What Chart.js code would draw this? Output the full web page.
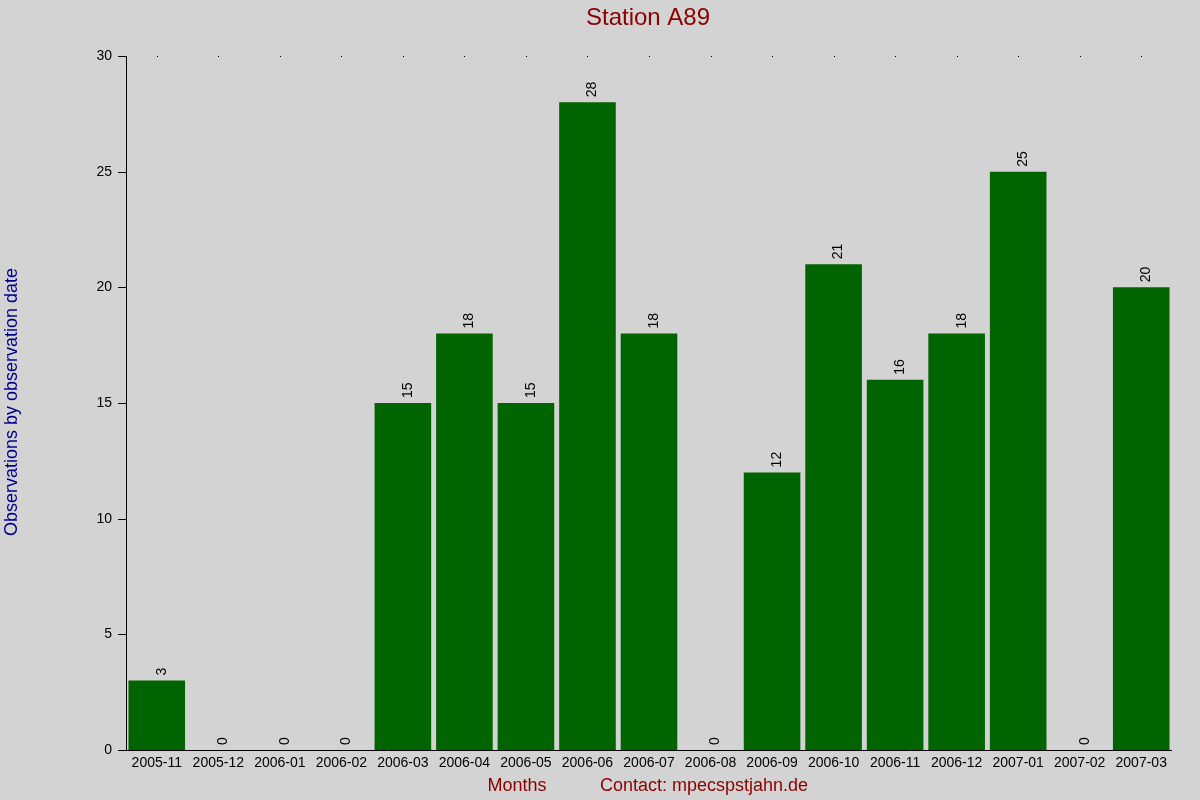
<!DOCTYPE html><html><head><meta charset="utf-8">
<script src="https://cdn.jsdelivr.net/npm/chart.js@4"></script>
<style>html,body{margin:0;background:#d3d3d3}#w{width:1200px;height:800px}</style></head><body><div id="w"><canvas id="c"></canvas></div>
<script>
const categories=["2005-11","2005-12","2006-01","2006-02","2006-03","2006-04","2006-05","2006-06","2006-07","2006-08","2006-09","2006-10","2006-11","2006-12","2007-01","2007-02","2007-03"];
const observations=[3,0,0,0,15,18,15,28,18,0,12,21,16,18,25,0,20];
const yTicks=[0,5,10,15,20,25,30];
const deco={id:'deco',afterDatasetsDraw(ch){
 const c=ch.ctx,x=ch.scales.x,y=ch.scales.y,a=ch.chartArea;
 c.save();c.strokeStyle='#000';c.lineWidth=1;c.fillStyle='#000';
 c.beginPath();c.moveTo(a.left+0.5,a.top);c.lineTo(a.left+0.5,a.bottom);c.moveTo(a.left,a.bottom+0.5);c.lineTo(a.right,a.bottom+0.5);c.stroke();
 c.font='14px "Liberation Sans",Arial';c.textAlign='right';c.textBaseline='middle';
 yTicks.forEach(v=>{const p=Math.round(y.getPixelForValue(v))+0.5;c.beginPath();c.moveTo(a.left-8,p);c.lineTo(a.left,p);c.stroke();c.fillText(v,a.left-14,p);});
 c.textAlign='center';c.textBaseline='top';
 categories.forEach((l,i)=>{const px=x.getPixelForValue(i);c.fillText(l,px,a.bottom+6);c.fillRect(Math.round(px),a.top,1,1);});
 observations.forEach((v,i)=>{const px=x.getPixelForValue(i),py=y.getPixelForValue(v);c.save();c.translate(px+5,py-5);c.rotate(-Math.PI/2);c.textAlign='left';c.textBaseline='middle';c.fillText(v,0,0);c.restore();});
 c.fillStyle='#8b0000';c.font='24px "Liberation Sans",Arial';c.textBaseline='middle';c.fillText('Station A89',648,18);
 c.font='18px "Liberation Sans",Arial';c.fillText('Months',517,786);c.fillText('Contact: mpecspstjahn.de',704,786);
 c.fillStyle='#00008b';c.translate(12,402);c.rotate(-Math.PI/2);c.fillText('Observations by observation date',0,0);
 c.restore();}};
new Chart(document.getElementById('c'),{type:'bar',data:{labels:categories,datasets:[{data:observations,backgroundColor:'#006400',barPercentage:0.92,categoryPercentage:1}]},
options:{responsive:true,maintainAspectRatio:false,animation:false,layout:{padding:{left:126,right:28,top:56,bottom:50}},
plugins:{legend:{display:false},tooltip:{enabled:false}},
scales:{x:{display:false},y:{display:false,min:0,max:30}}},plugins:[deco]});
</script></body></html>
